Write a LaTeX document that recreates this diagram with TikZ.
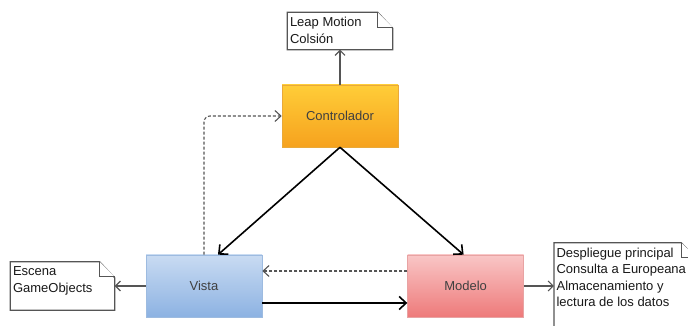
\documentclass[tikz,border=0pt]{standalone}
\usepackage{fontspec}
\setmainfont{Liberation Sans}
\usetikzlibrary{arrows.meta,positioning}
\definecolor{ctrltop}{HTML}{FFCD38}
\definecolor{ctrlbot}{HTML}{F6A21E}
\definecolor{ctrlline}{HTML}{E9A93A}
\definecolor{vistatop}{HTML}{C9DBF2}
\definecolor{vistabot}{HTML}{8CB2E2}
\definecolor{vistaline}{HTML}{9DBBE0}
\definecolor{modtop}{HTML}{F9C6C6}
\definecolor{modbot}{HTML}{EE7A7A}
\definecolor{modline}{HTML}{E8A3A3}
\definecolor{linegray}{HTML}{555555}
% outline of a note with folded corner
\newcommand\noteoutline[1]{%
  \draw[noteline] (#1.south west) -- (#1.north west) -- ([xshift=-15pt]#1.north east)
    -- ([yshift=-16pt]#1.north east) -- (#1.south east) -- cycle;
  \draw[noteline] ([xshift=-15pt]#1.north east) |- ([yshift=-15pt]#1.north east);}
\begin{document}
\begin{tikzpicture}[x=1pt, y=1pt,
   font=\fontsize{13}{16.5}\selectfont, node distance=30pt,
   box/.style={minimum width=116pt, minimum height=62pt, inner sep=0pt, line width=0.6pt, text=black!75},
   note/.style={inner sep=0pt},
   notetext/.style={anchor=north west, align=left, inner xsep=2.5pt, inner ysep=5pt, text=black!90},
   noteline/.style={draw=linegray, line width=1.2pt, fill=white},
   arr/.style={-{Straight Barb[length=7pt, width=13pt]}, line width=1.6pt},
   dasharr/.style={-{Straight Barb[length=6pt, width=11pt]}, draw=linegray, line width=1.1pt, dash pattern=on 3pt off 2pt},
   notearr/.style={-{Straight Barb[length=5pt, width=10pt]}, draw=linegray, line width=1.1pt}]
   \clip (0,0) rectangle (688,326);
   \fill[white] (0,0) rectangle (688,326);
   % the three parts
   \node[box, top color=vistatop, bottom color=vistabot, draw=vistaline] (vista) at (204,40) {Vista};
   \node[box, top color=modtop, bottom color=modbot, draw=modline, right=145pt of vista] (modelo) {Modelo};
   \node[box, top color=ctrltop, bottom color=ctrlbot, draw=ctrlline] (ctrl) at (340,210) {Controlador};
   % notes
   \node[note, minimum width=105pt, minimum height=37pt, above=35pt of ctrl] (leap) {};
   \node[note, minimum width=104pt, minimum height=48pt, left=31pt of vista] (escena) {};
   \node[note, minimum width=142pt, minimum height=86pt, right=30pt of modelo] (desp) {};
   \noteoutline{leap}
   \noteoutline{escena}
   \noteoutline{desp}
   \node[notetext] (leaptxt) at (leap.north west) {Leap Motion\\Colsión};
   \node[notetext] (escenatxt) at (escena.north west) {Escena\\GameObjects};
   \node[notetext] (desptxt) at (desp.north west) {Despliegue principal\\Consulta a Europeana\\Almacenamiento y\\lectura de los datos};
   % connectors
   \draw[notearr] (ctrl.north) -- (leap.south);
   \draw[notearr] (vista.west) -- (escena.east);
   \draw[notearr] (modelo.east) -- (desp.west);
   \draw[arr] (ctrl.south) -- ([xshift=14pt]vista.north);
   \draw[arr] (ctrl.south) -- ([xshift=-2pt]modelo.north);
   \draw[dasharr, rounded corners=6pt] (vista.north) |- (ctrl.west);
   \draw[dasharr] ([yshift=15pt]modelo.west) -- ([yshift=15pt]vista.east);
   \draw[arr] ([yshift=-17pt]vista.east) -- ([yshift=-17pt]modelo.west);
\end{tikzpicture}
\end{document}
